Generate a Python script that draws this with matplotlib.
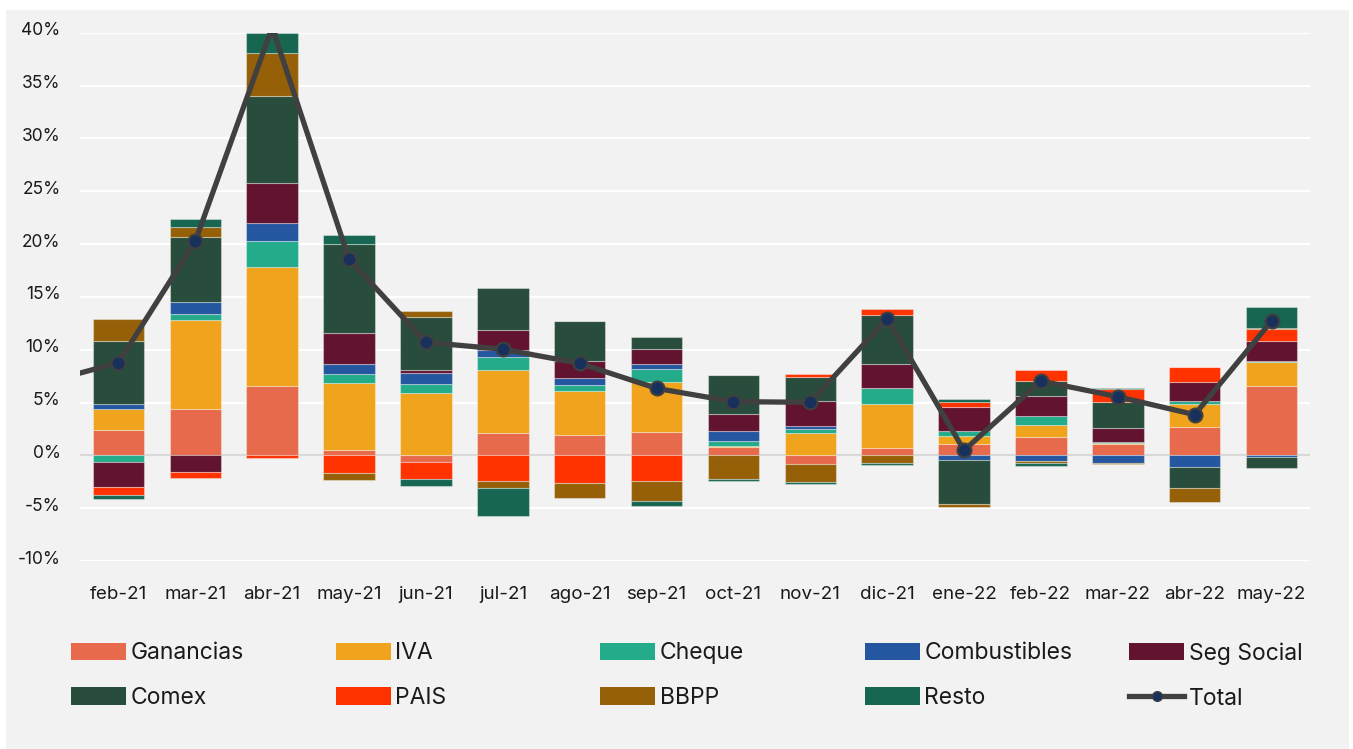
import numpy as np
import matplotlib
matplotlib.use('Agg')
import matplotlib.pyplot as plt
import matplotlib.transforms as mtransforms
from matplotlib.patches import Rectangle
from matplotlib.lines import Line2D
from matplotlib.ticker import FuncFormatter, MultipleLocator

plt.rcParams['font.family'] = ['Inter', 'DejaVu Sans']

months = ['feb-21', 'mar-21', 'abr-21', 'may-21', 'jun-21', 'jul-21', 'ago-21', 'sep-21',
          'oct-21', 'nov-21', 'dic-21', 'ene-22', 'feb-22', 'mar-22', 'abr-22', 'may-22']

ganancias = [2.43, 4.36, 6.59, 0.53, -0.60, 2.08, 1.89, 2.24, 0.82, -0.85, 0.72, 1.07, 1.76, 1.04, 2.71, 6.53]
iva = [1.92, 8.48, 11.24, 6.32, 5.87, 6.00, 4.17, 4.73, 0.05, 2.14, 4.11, 0.79, 1.14, 0.10, 2.12, 2.33]
cheque = [-0.60, 0.54, 2.46, 0.88, 0.88, 1.26, 0.60, 1.20, 0.53, 0.35, 1.51, 0.47, 0.82, 0.15, 0.31, 0.05]
combustibles = [0.47, 1.11, 1.74, 0.92, 1.07, 0.63, 0.66, 0.48, 0.89, 0.26, 0.05, -0.47, -0.57, -0.70, -1.08, -0.20]
seg_social = [-2.40, -1.61, 3.78, 2.96, 0.29, 1.90, 1.58, 1.45, 1.64, 2.42, 2.24, 2.27, 1.92, 1.33, 1.83, 1.90]
comex = [5.97, 6.21, 8.24, 8.37, 5.02, 3.94, 3.82, 1.07, 3.66, 2.27, 4.61, -4.14, 1.42, 2.39, -2.02, -1.03]
pais = [-0.76, -0.57, -0.28, -1.71, -1.67, -2.46, -2.65, -2.46, 0.05, 0.29, 0.57, 0.42, 0.99, 1.27, 1.36, 1.17]
bbpp = [2.08, 0.89, 4.02, -0.66, 0.51, -0.67, -1.42, -1.84, -2.24, -1.68, -0.76, -0.26, -0.20, -0.15, -1.32, 0.05]
resto = [-0.40, 0.76, 1.92, 0.91, -0.61, -2.65, 0.00, -0.50, -0.22, -0.16, -0.13, 0.31, -0.20, 0.05, 0.00, 1.99]

total = [8.77, 20.27, 40.5, 18.56, 10.70, 10.04, 8.71, 6.34, 5.08, 5.02, 12.93, 0.47, 7.03, 5.55, 3.85, 12.72]
total_prev = 6.8  # ene-21, only the line segment entering the chart is visible

series = [
    ('Ganancias', ganancias, '#E66A4B'),
    ('IVA', iva, '#F0A31C'),
    ('Cheque', cheque, '#24AC8A'),
    ('Combustibles', combustibles, '#2457A0'),
    ('Seg Social', seg_social, '#611330'),
    ('Comex', comex, '#294D3C'),
    ('PAIS', pais, '#FF3300'),
    ('BBPP', bbpp, '#956008'),
    ('Resto', resto, '#176652'),
]

fig = plt.figure(figsize=(13.53, 7.49), dpi=100, facecolor='white')
fig.patches.append(Rectangle((6 / 1353, 0), 1343 / 1353, 739 / 749, transform=fig.transFigure,
                             facecolor='#F2F2F2', edgecolor='none', zorder=-10))

ax = fig.add_axes([80 / 1353, 1 - 561 / 749, 1230 / 1353, (561 - 32.7) / 749])
ax.set_facecolor('#F2F2F2')

x = np.arange(len(months))
pos_bottom = np.zeros(len(months))
neg_bottom = np.zeros(len(months))
handles = {}
for name, values, color in series:
    v = np.array(values)
    bottom = np.where(v >= 0, pos_bottom, neg_bottom)
    ax.bar(x, v, 0.67, bottom=bottom, color=color, edgecolor=(1, 1, 1, 0.35),
           linewidth=0.8, zorder=3)
    handles[name] = Rectangle((0, 0), 1, 1, facecolor=color)
    pos_bottom += np.where(v >= 0, v, 0)
    neg_bottom += np.where(v < 0, v, 0)

line_x = np.concatenate([[-1], x])
line_y = [total_prev] + total
ax.plot(line_x, line_y, color='#404040', linewidth=3.8, marker='o', markersize=10,
        markerfacecolor='#17305C', markeredgecolor='#404040', markeredgewidth=1.5,
        markevery=list(range(1, len(line_x))), zorder=5)
handles['Total'] = Line2D([], [], color='#404040', linewidth=3.8, marker='o', markersize=7,
                          markerfacecolor='#17305C', markeredgecolor='#404040')

ax.axhline(0, color='#D9D9D9', linewidth=1.6, zorder=2)
ax.set_xlim(-0.5, len(months) - 0.5)
ax.set_ylim(-10, 40)
ax.yaxis.set_major_locator(MultipleLocator(5))
ax.yaxis.set_major_formatter(FuncFormatter(lambda v, _: f'{v:.0f}%'))
ax.grid(True, axis='y', color='white', linewidth=1.6, zorder=1)
ax.set_axisbelow(True)
for spine in ax.spines.values():
    spine.set_visible(False)
ax.set_xticks(x)
ax.set_xticklabels(months)
ax.tick_params(axis='both', length=0, colors='#1a1a1a')
ax.tick_params(axis='x', pad=18, labelsize=13.5)
ax.tick_params(axis='y', pad=14, labelsize=12.5)

# Excel places the value labels slightly above their gridlines
shift_up = mtransforms.ScaledTranslation(0, 4 / 100, fig.dpi_scale_trans)
for lbl in ax.get_yticklabels():
    lbl.set_transform(lbl.get_transform() + shift_up)

columns = [('Ganancias', 'Comex'), ('IVA', 'PAIS'), ('Cheque', 'BBPP'),
           ('Combustibles', 'Resto'), ('Seg Social', 'Total')]
for i, (top_name, bottom_name) in enumerate(columns):
    leg = fig.legend([handles[top_name], handles[bottom_name]], [top_name, bottom_name],
                     loc='upper left', bbox_to_anchor=((62 + 264.5 * i) / 1353, 1 - 633 / 749),
                     frameon=False, fontsize=16.5, handlelength=2.4, handleheight=0.78,
                     handletextpad=0.2, labelspacing=1.0, borderaxespad=0)
    for t in leg.get_texts():
        t.set_color('#1a1a1a')

fig.savefig('out.png', dpi=100, facecolor=fig.get_facecolor())
